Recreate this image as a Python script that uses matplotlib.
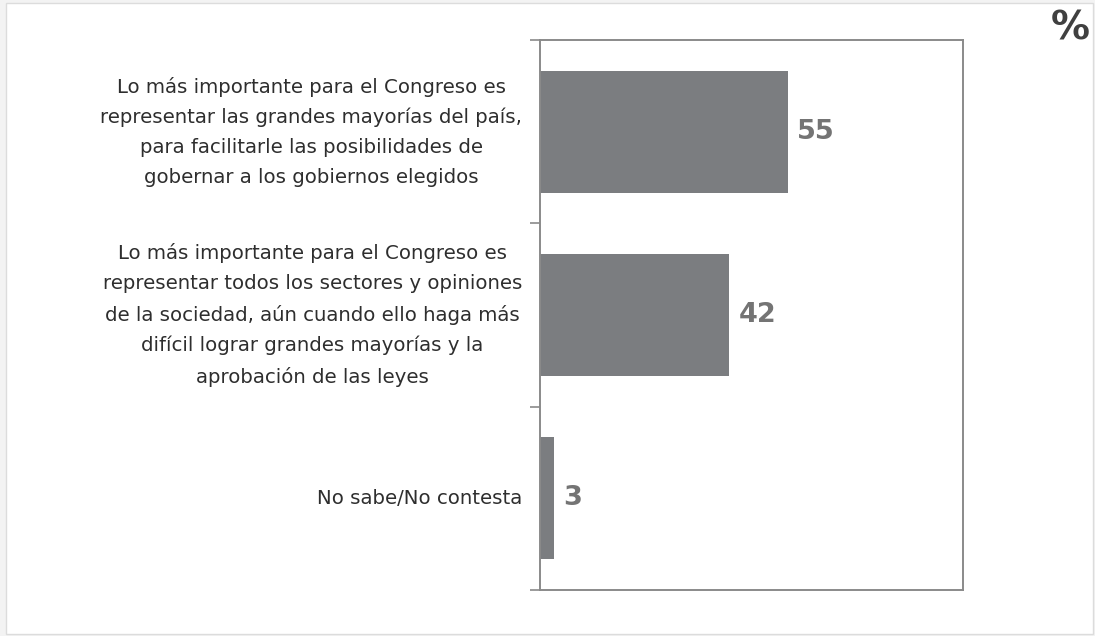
import matplotlib
matplotlib.use("Agg")
import matplotlib.pyplot as plt
from matplotlib.patches import Rectangle

categories = [
    "Lo más importante para el Congreso es\nrepresentar las grandes mayorías del país,\npara facilitarle las posibilidades de\ngobernar a los gobiernos elegidos",
    "Lo más importante para el Congreso es\nrepresentar todos los sectores y opiniones\nde la sociedad, aún cuando ello haga más\ndifícil lograr grandes mayorías y la\naprobación de las leyes",
    "No sabe/No contesta",
]
values = [55, 42, 3]

W, H = 1095, 636
fig = plt.figure(figsize=(W / 100, H / 100), dpi=100)
fig.patch.set_facecolor("#f3f3f3")
frame = Rectangle((6 / W, 2 / H), (1093 - 6) / W, (633 - 2) / H,
                  transform=fig.transFigure, facecolor="white",
                  edgecolor="#dcdcdc", linewidth=1.0, zorder=-10)
fig.patches.append(frame)

ax = fig.add_axes([540 / W, 1 - 590 / H, 423 / W, 550 / H])
ax.set_zorder(5)
ax.set_facecolor("white")
pos = list(range(len(values)))
ax.barh(pos, values, height=0.667, color="#7b7d80", zorder=2)
ax.set_xlim(0, 94)
ax.set_ylim(2.5, -0.5)

ax.set_xticks([])
ax.set_yticks(pos)
ax.set_yticklabels(categories, fontsize=14.2, color="#2e2e2e",
                   multialignment="center", linespacing=1.72,
                   family="DejaVu Sans", va="center")
ax.tick_params(axis="y", which="major", length=0, pad=13)
ax.set_yticks([-0.5, 0.5, 1.5, 2.5], minor=True)
ax.tick_params(axis="y", which="minor", length=7, width=1.2, color="#8a8a8a",
               direction="out")

for s in ax.spines.values():
    s.set_color("#8a8a8a")
    s.set_linewidth(1.4)

for p, v in zip(pos, values):
    ax.annotate(str(v), (v, p), xytext=(7, 0), textcoords="offset points",
                va="center", ha="left", fontsize=19.5, fontweight="bold",
                color="#747474")

fig.text(1090 / W, 1 - 9 / H, "%", ha="right", va="top", fontsize=28,
         fontweight="bold", color="#404040")

fig.savefig("out.png", dpi=100, facecolor=fig.get_facecolor())
